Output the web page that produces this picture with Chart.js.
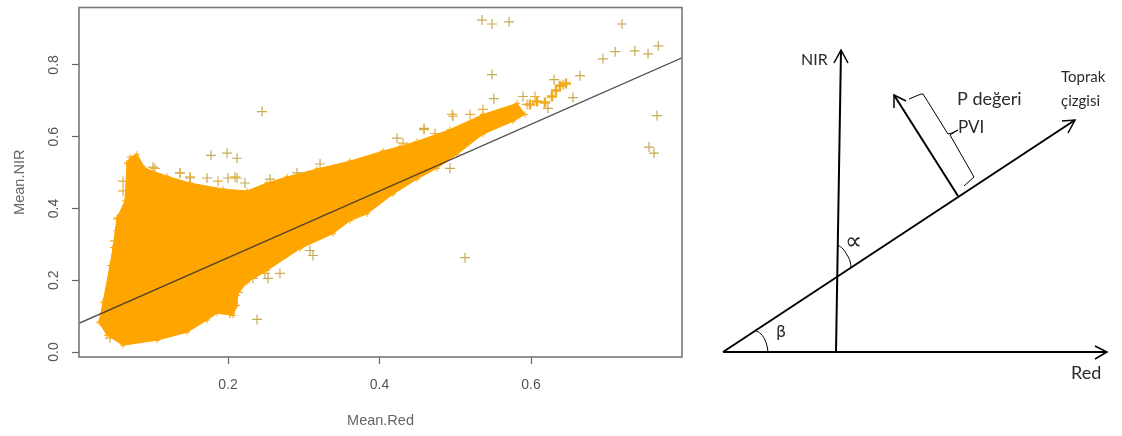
<!DOCTYPE html>
<html>
<head>
<meta charset="utf-8">
<title>Mean.Red / Mean.NIR</title>
<script src="https://cdn.jsdelivr.net/npm/chart.js@4/dist/chart.umd.min.js"></script>
<style>
  html, body { margin: 0; padding: 0; background: #fff; overflow: hidden; }
  #page { position: relative; width: 1122px; height: 436px; }
  canvas { position: absolute; top: 0; }
  #scatterChart { left: 0; filter: blur(0.5px); }
  #diagramChart { left: 700px; }
</style>
</head>
<body>
<div id="page">
  <canvas id="scatterChart" width="700" height="436"></canvas>
  <canvas id="diagramChart" width="422" height="436"></canvas>
</div>
<script>
// Scatter axes
const xTicks = [0.2, 0.4, 0.6];
const yTicks = [0, 0.2, 0.4, 0.6, 0.8];

// Outline of the solid orange mass, read clockwise from its top left corner
const massX = [0.0667, 0.0706, 0.0799, 0.0904, 0.1195, 0.1498, 0.1934, 0.2251, 0.2515, 0.2779, 0.3175, 0.361, 0.4046, 0.4271, 0.4495, 0.493, 0.5366, 0.5815, 0.5921, 0.5762, 0.5366, 0.5023, 0.4759, 0.4495, 0.4178, 0.3835, 0.361, 0.3386, 0.295, 0.2515, 0.2251, 0.2119, 0.2119, 0.2066, 0.1855, 0.1723, 0.1459, 0.1063, 0.0614, 0.0403, 0.0297, 0.035, 0.0442, 0.0482, 0.0535, 0.064, 0.0667];
const massY = [0.526, 0.543, 0.551, 0.512, 0.49, 0.471, 0.454, 0.449, 0.471, 0.488, 0.51, 0.532, 0.56, 0.573, 0.587, 0.62, 0.662, 0.693, 0.662, 0.643, 0.607, 0.551, 0.512, 0.482, 0.44, 0.385, 0.366, 0.33, 0.288, 0.227, 0.194, 0.158, 0.13, 0.102, 0.108, 0.089, 0.055, 0.033, 0.019, 0.047, 0.083, 0.139, 0.241, 0.291, 0.374, 0.421, 0.526];

// Crosses that stick out of the mass edge
const edgeX = [0.1036, 0.1366, 0.1498, 0.1868, 0.2092, 0.0614, 0.0614, 0.0548, 0.0548, 0.0508, 0.0376, 0.0442, 0.1802, 0.1987, 0.2132, 0.233, 0.2488, 0.4958, 0.4588, 0.4733, 0.431, 0.5195, 0.5366, 0.5947, 0.6052];
const edgeY = [0.512, 0.499, 0.488, 0.476, 0.488, 0.476, 0.449, 0.371, 0.338, 0.31, 0.075, 0.039, 0.122, 0.136, 0.166, 0.205, 0.219, 0.662, 0.62, 0.609, 0.582, 0.662, 0.676, 0.69, 0.712];

// Small orange clump at the end of the mass
const clumpX = [0.5987, 0.6079, 0.6184, 0.6276, 0.6329, 0.6382, 0.6461];
const clumpY = [0.69, 0.698, 0.695, 0.712, 0.729, 0.742, 0.748];

// Single scattered points
const outlierX = [0.5353, 0.5485, 0.571, 0.7201, 0.695, 0.711, 0.737, 0.7545, 0.768, 0.6647, 0.6422, 0.6304, 0.5485, 0.551, 0.6554, 0.6224, 0.5894, 0.7663, 0.7557, 0.7624, 0.497, 0.4588, 0.4231, 0.493, 0.5129, 0.2449, 0.1776, 0.1987, 0.2119, 0.2, 0.2119, 0.2224, 0.1366, 0.1498, 0.1723, 0.3215, 0.2911, 0.2554, 0.101, 0.2383, 0.2686, 0.2528, 0.3122, 0.3082, 0.2026, 0.2066];
const outlierY = [0.925, 0.914, 0.92, 0.914, 0.817, 0.837, 0.839, 0.831, 0.853, 0.77, 0.745, 0.759, 0.773, 0.706, 0.709, 0.679, 0.712, 0.659, 0.571, 0.554, 0.657, 0.623, 0.596, 0.512, 0.263, 0.67, 0.548, 0.554, 0.54, 0.485, 0.485, 0.471, 0.499, 0.485, 0.485, 0.524, 0.499, 0.482, 0.515, 0.091, 0.219, 0.205, 0.269, 0.283, 0.108, 0.166];

// Soil line across the plot
const fitX = [0.0033, 0.7993];
const fitY = [0.08, 0.82];

// Diagram lines, in diagram units
const redAxis = [[23, 84], [407, 84]];
const redHead = [[395, 90], [407, 84], [395, 77]];
const nirAxis = [[136, 84], [141, 386]];
const nirHead = [[134, 373], [141, 386], [148, 373]];
const soilLine = [[23, 84], [375, 316]];
const soilHead = [[362, 315], [375, 316], [368, 303]];
const pviLine = [[258, 240], [194, 341]];
const pviHead = [[194, 328], [194, 341], [206, 335]];
const brace = [[209, 337], [221, 342], [223, 342], [248, 302], [252, 303], [258, 306], [250, 301], [274, 259], [264, 250]];
const betaArc = [[55, 106], [61, 102], [65, 96], [67, 90], [68, 84]];
const alphaArc = [[138, 191], [143, 187], [147, 181], [150, 175], [151, 168]];

// Diagram labels
const diagramLabels = ["NIR", "P değeri", "PVI", "Toprak", "çizgisi", "Red", "β", "∝"];
const diagramLabelX = [101, 257, 258, 361, 361, 371, 76, 145];
const diagramLabelY = [376, 337, 308, 359, 335, 63, 103, 193];
const diagramLabelSize = [16, 18, 17, 15, 15, 18, 16, 24];

const zip = (xs, ys) => xs.map((x, i) => ({ x: x, y: ys[i] }));
const toPoints = (pairs) => pairs.map((p) => ({ x: p[0], y: p[1] }));

// Frame around the R plot
const boxFrame = {
  id: "boxFrame",
  afterDatasetsDraw(chart) {
    const a = chart.chartArea;
    const ctx = chart.ctx;
    ctx.save();
    ctx.strokeStyle = "#777";
    ctx.lineWidth = 1.6;
    ctx.strokeRect(a.left, a.top, a.right - a.left, a.bottom - a.top);
    ctx.restore();
  },
};

// Text on the diagram, placed through the scales
const diagramText = {
  id: "diagramText",
  afterDatasetsDraw(chart) {
    const ctx = chart.ctx;
    ctx.save();
    ctx.fillStyle = "#2a2a2a";
    ctx.textBaseline = "middle";
    diagramLabels.forEach((text, i) => {
      ctx.font = diagramLabelSize[i] + "px " + (text === "∝" || text === "β" ? "'DejaVu Sans'" : "Lato");
      ctx.fillText(text, chart.scales.x.getPixelForValue(diagramLabelX[i]), chart.scales.y.getPixelForValue(diagramLabelY[i]));
    });
    ctx.restore();
  },
};

document.addEventListener("DOMContentLoaded", function () {
  const axisFont = { family: "'Liberation Sans'", size: 14 };

  // NIR vs Red scatter
  new Chart(document.getElementById("scatterChart").getContext("2d"), {
    type: "scatter",
    data: {
      datasets: [
        {
          data: zip(fitX, fitY),
          showLine: true,
          borderColor: "rgba(55, 50, 50, 0.85)",
          borderWidth: 1.3,
          pointRadius: 0,
        },
        {
          data: zip(massX, massY),
          showLine: true,
          fill: "shape",
          tension: 0,
          borderColor: "#ffa500",
          borderWidth: 1,
          backgroundColor: "#ffa500",
          pointStyle: "cross",
          pointRadius: 3,
          pointBorderColor: "#ffa500",
          pointBorderWidth: 1,
        },
        {
          data: zip(edgeX, edgeY),
          pointStyle: "cross",
          pointRadius: 5,
          pointBorderColor: "#e6ae3c",
          pointBorderWidth: 1.2,
        },
        {
          data: zip(clumpX, clumpY),
          pointStyle: "cross",
          pointRadius: 5,
          pointBorderColor: "#f0ac20",
          pointBorderWidth: 2.5,
        },
        {
          data: zip(outlierX, outlierY),
          pointStyle: "cross",
          pointRadius: 5,
          pointBorderColor: "#c8ab55",
          pointBorderWidth: 1.2,
        },
      ],
    },
    options: {
      responsive: false,
      animation: false,
      layout: { padding: { top: 5, right: 18 } },
      plugins: { legend: { display: false }, tooltip: { enabled: false } },
      scales: {
        x: {
          type: "linear",
          min: 0.0033,
          max: 0.7993,
          afterBuildTicks: (s) => { s.ticks = xTicks.map((v) => ({ value: v })); },
          afterFit: (s) => { s.height = 79; },
          border: { display: false },
          grid: { drawOnChartArea: false, tickLength: 7, tickColor: "#666", tickWidth: 1.2 },
          ticks: { color: "#555", font: axisFont, padding: 13, maxRotation: 0, callback: (v) => v.toFixed(1) },
          title: { display: true, text: "Mean.Red", color: "#666", font: { family: "'Liberation Sans'", size: 14.5 }, padding: { top: 0, bottom: 6 } },
        },
        y: {
          type: "linear",
          min: -0.0138,
          max: 0.96,
          afterBuildTicks: (s) => { s.ticks = yTicks.map((v) => ({ value: v })); },
          afterFit: (s) => { s.width = 79; s.paddingTop = 0; s.paddingBottom = 0; },
          border: { display: false },
          grid: { drawOnChartArea: false, tickLength: 7, tickColor: "#666", tickWidth: 1.2 },
          ticks: { color: "#555", font: axisFont, padding: 8, minRotation: 90, maxRotation: 90, crossAlign: "center", callback: (v) => v.toFixed(1) },
          title: { display: true, text: "Mean.NIR", color: "#666", font: { family: "'Liberation Sans'", size: 14.5 }, padding: { top: 11, bottom: 0 } },
        },
      },
    },
    plugins: [boxFrame],
  });

  // PVI sketch
  const stroke = (pairs, width, tension) => ({
    data: toPoints(pairs),
    showLine: true,
    borderColor: "#000",
    borderWidth: width,
    tension: tension || 0,
    pointRadius: 0,
  });

  new Chart(document.getElementById("diagramChart").getContext("2d"), {
    type: "scatter",
    data: {
      datasets: [
        stroke(redAxis, 2),
        stroke(redHead, 1.5),
        stroke(nirAxis, 2),
        stroke(nirHead, 1.5),
        stroke(soilLine, 2),
        stroke(soilHead, 1.5),
        stroke(pviLine, 2),
        stroke(pviHead, 1.5),
        stroke(brace, 1),
        stroke(betaArc, 1, 0.4),
        stroke(alphaArc, 1, 0.4),
      ],
    },
    options: {
      responsive: false,
      animation: false,
      layout: { padding: 0 },
      plugins: { legend: { display: false }, tooltip: { enabled: false } },
      scales: {
        x: { type: "linear", min: 0, max: 422, display: false },
        y: { type: "linear", min: 0, max: 436, display: false },
      },
    },
    plugins: [diagramText],
  });
});
</script>
</body>
</html>
